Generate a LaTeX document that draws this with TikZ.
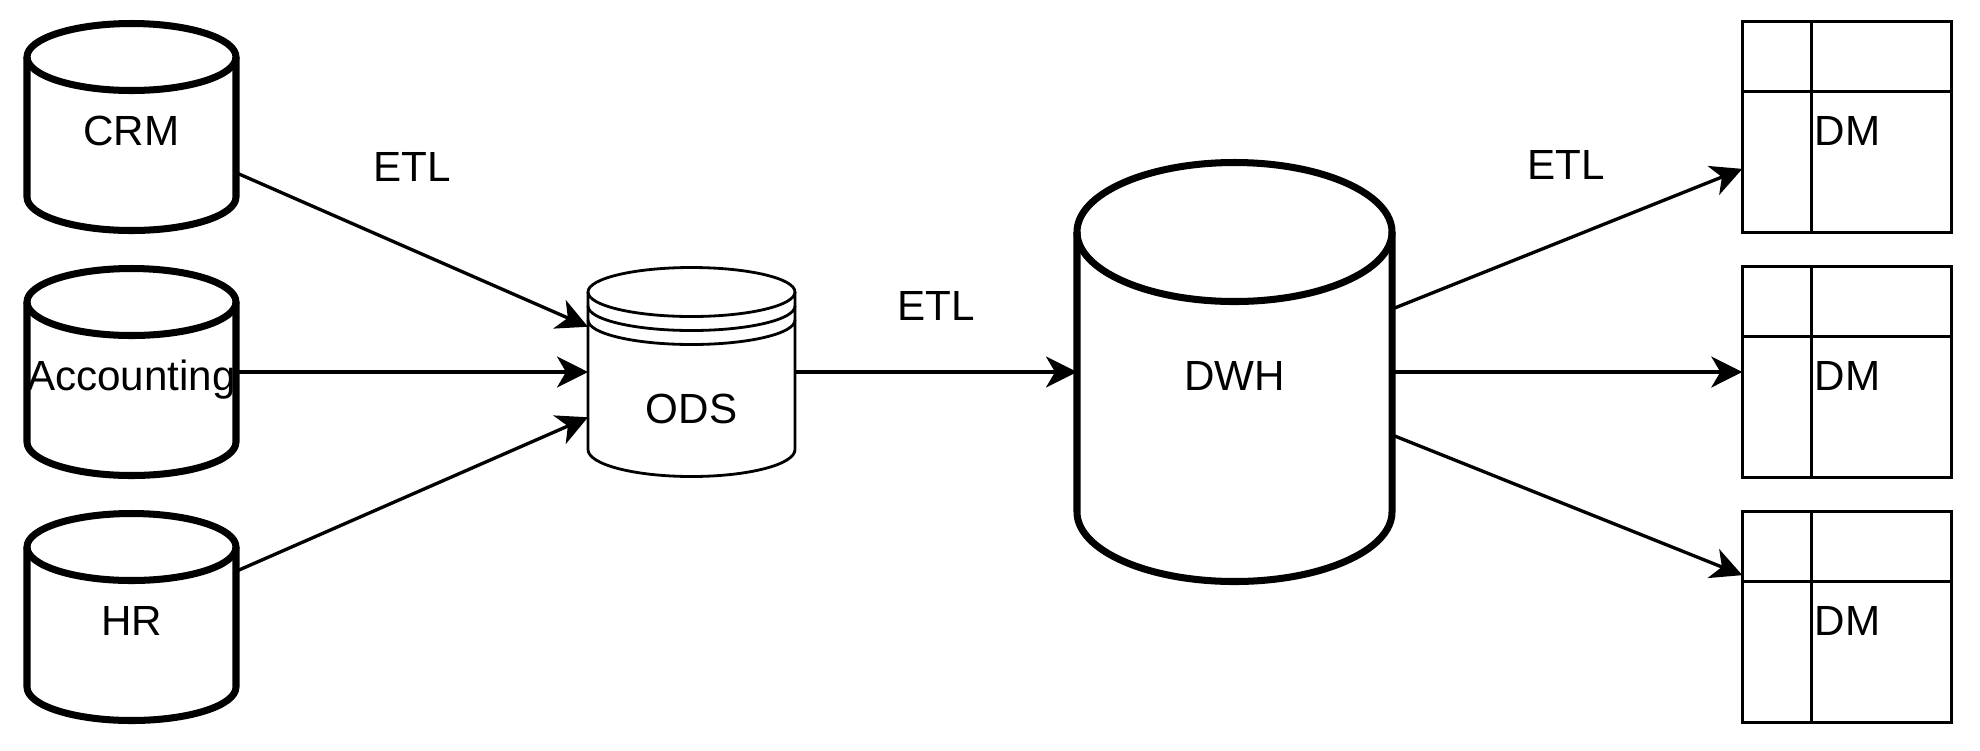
\documentclass[tikz,border=0pt]{standalone}
\usepackage{fontspec}
\setmainfont{Liberation Sans}
\usetikzlibrary{arrows.meta, calc, positioning}

\begin{document}
\begin{tikzpicture}[
        font=\fontsize{12}{14}\selectfont,
        dbbox/.style={rectangle, draw=none, outer sep=0pt, inner sep=0pt, text height=3.7mm, text depth=0pt},
        dmbox/.style={rectangle, draw, line width=0.95pt, outer sep=0pt, inner sep=0pt,
            minimum width=2.094cm, minimum height=2.105cm,
            label={[anchor=base west, inner sep=0pt, xshift=7.17mm, yshift=-12.35mm]north west:DM}},
        cylline/.style={line width=2pt},
        odsline/.style={line width=0.8pt},
        flow/.style={-{Stealth[length=3.1mm, width=3.1mm, inset=0.9mm]}, line width=0.95pt},
        etl/.style={inner sep=0pt}
    ]
        \useasboundingbox (0,0) rectangle (19.8,-7.5);

        \node[dbbox, minimum width=2.09cm, minimum height=2.07cm] (crm) at (1.315,-1.27) {CRM};
        \node[dbbox, minimum width=2.09cm, minimum height=2.07cm] (acc) at (1.315,-3.72) {Accounting};
        \node[dbbox, minimum width=2.09cm, minimum height=2.07cm] (hr) at (1.315,-6.17) {HR};

        \node[dbbox, minimum width=2.07cm, minimum height=2.09cm, label={[yshift=-3.65mm]center:ODS}] (ods) at (6.915,-3.72) {};
        \node[dbbox, minimum width=3.15cm, minimum height=4.19cm] (dwh) at (12.345,-3.72) {DWH};

        \node[dmbox] (dm1) at (18.47,-1.27) {};
        \node[dmbox] (dm2) at (18.47,-3.72) {};
        \node[dmbox] (dm3) at (18.47,-6.17) {};

        \foreach \n/\rx/\ry in {crm/1.045/0.335, acc/1.045/0.335, hr/1.045/0.335, dwh/1.575/0.695} {
            \draw[cylline] ($(\n.north)+(0,-\ry)$) ellipse [x radius=\rx, y radius=\ry];
            \draw[cylline] ($(\n.north west)+(0,-\ry)$) -- ($(\n.south west)+(0,\ry)$)
                arc [start angle=180, end angle=360, x radius=\rx, y radius=\ry] -- ($(\n.north east)+(0,-\ry)$);
        }

        \draw[odsline] ($(ods.north)+(0,-0.245)$) ellipse [x radius=1.035, y radius=0.245];
        \foreach \d in {0.14,0.28}
            \draw[odsline] ($(ods.north west)+(0,-0.245-\d)$) arc [start angle=180, end angle=360, x radius=1.035, y radius=0.245];
        \draw[odsline] ($(ods.north west)+(0,-0.245)$) -- ($(ods.south west)+(0,0.27)$)
            arc [start angle=180, end angle=360, x radius=1.035, y radius=0.27] -- ($(ods.north east)+(0,-0.245)$);

        \foreach \n in {dm1,dm2,dm3} {
            \draw[line width=0.95pt] ($(\n.north west)+(0.695,0)$) -- ($(\n.south west)+(0.695,0)$);
            \draw[line width=0.95pt] ($(\n.north west)+(0,-0.695)$) -- ($(\n.north east)+(0,-0.695)$);
        }

        \node[etl] (etl1) at (4.12,-1.67) {ETL};
        \node[etl] (etl2) at (9.36,-3.06) {ETL};
        \node[etl] (etl3) at (15.66,-1.65) {ETL};

        \draw[flow] (crm) -- (ods);
        \draw[flow] (acc) -- (ods);
        \draw[flow] (hr) -- (ods);
        \draw[flow] (ods) -- (dwh);
        \draw[flow] (dwh) -- (dm1);
        \draw[flow] (dwh) -- (dm2);
        \draw[flow] (dwh) -- (dm3);
    \end{tikzpicture}
\end{document}
